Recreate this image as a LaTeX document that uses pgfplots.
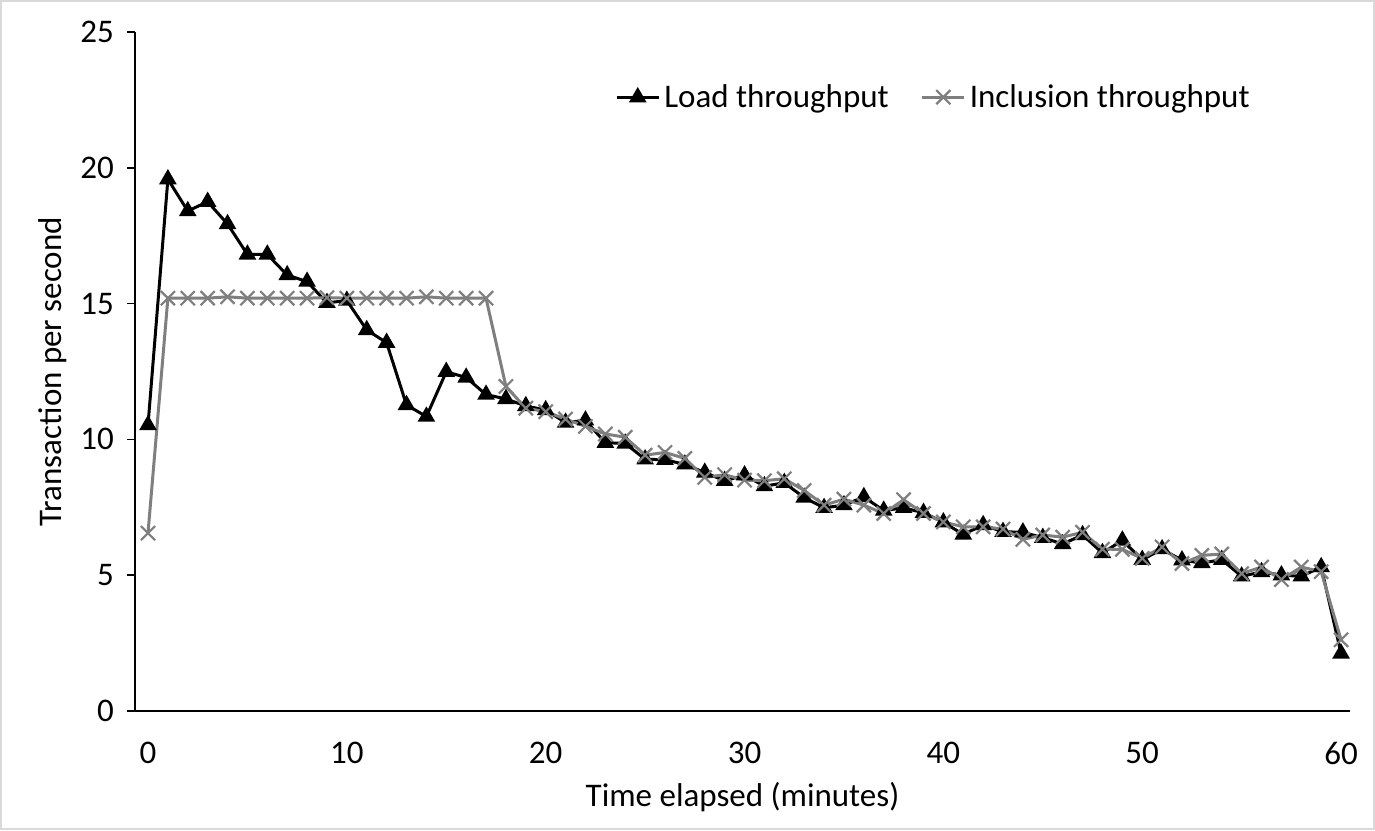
\documentclass[border=0pt]{standalone}
\usepackage{pgfplots}
\pgfplotsset{compat=1.18}
\usepackage{pgfplotstable}
\usepackage{fontspec}
\setmainfont{Carlito}

\definecolor{incl}{HTML}{7F7F7F}
\definecolor{frame}{HTML}{D9D9D9}

\pgfplotstableread{
t load
0 10.53
1 19.58
2 18.41
3 18.75
4 17.93
5 16.81
6 16.81
7 16.05
8 15.81
9 15.03
10 15.11
11 14.03
12 13.56
13 11.27
14 10.84
15 12.49
16 12.28
17 11.65
18 11.49
19 11.23
20 11.08
21 10.62
22 10.70
23 9.88
24 9.85
25 9.27
26 9.25
27 9.08
28 8.78
29 8.48
30 8.68
31 8.28
32 8.40
33 7.86
34 7.48
35 7.58
36 7.88
37 7.38
38 7.48
39 7.30
40 6.95
41 6.50
42 6.85
43 6.60
44 6.58
45 6.38
46 6.15
47 6.48
48 5.82
49 6.28
50 5.57
51 5.96
52 5.55
53 5.45
54 5.57
55 4.96
56 5.12
57 5.00
58 4.96
59 5.30
60 2.12
}\loadtable

\pgfplotstableread{
t incl
0 6.55
1 15.20
2 15.20
3 15.20
4 15.25
5 15.20
6 15.20
7 15.20
8 15.20
9 15.22
10 15.20
11 15.20
12 15.20
13 15.20
14 15.25
15 15.20
16 15.20
17 15.20
18 11.95
19 11.15
20 11.02
21 10.75
22 10.48
23 10.20
24 10.08
25 9.42
26 9.52
27 9.30
28 8.60
29 8.70
30 8.50
31 8.48
32 8.55
33 8.12
34 7.58
35 7.80
36 7.58
37 7.27
38 7.78
39 7.27
40 6.96
41 6.78
42 6.78
43 6.70
44 6.32
45 6.48
46 6.40
47 6.58
48 5.96
49 5.95
50 5.62
51 6.04
52 5.43
53 5.73
54 5.78
55 5.06
56 5.30
57 4.84
58 5.30
59 5.13
60 2.62
}\incltable

\begin{document}
\begin{tikzpicture}
  % frame of the whole chart area: 1375 x 830 px at 0.5pt per px
  \useasboundingbox (0,0) rectangle (687.5pt,415pt);
  \draw[frame, line width=1.2pt] (0.6pt,0.6pt) rectangle (686.9pt,414.4pt);
  \begin{axis}[
    at={(67.5pt,59.5pt)}, anchor=south west,
    scale only axis,
    width=607.5pt, height=339.5pt,
    xmin=-0.654, xmax=60.45,
    ymin=0, ymax=25,
    axis x line*=bottom, axis y line*=left,
    axis line style={black, line width=0.9pt, -},
    xtick={0,10,...,60},
    ytick={0,5,...,25},
    x tick style={draw=none},
    y tick style={black, line width=0.9pt},
    tick align=outside,
    major tick length=4pt,
    /pgf/number format/assume math mode=true,
    tick label style={font=\fontsize{16.5}{19}\selectfont},
    label style={font=\fontsize{16.5}{19}\selectfont},
    xlabel={Time elapsed (minutes)},
    ylabel={Transaction per second},
    xticklabel style={yshift=-8pt},
    yticklabel style={xshift=-3pt},
    xlabel style={yshift=-2pt},
    legend style={
      draw=none, fill=none,
      at={(0.39,0.904)}, anchor=west,
      font=\fontsize{16.5}{19}\selectfont,
      legend cell align=left,
      /tikz/every even column/.append style={column sep=14pt},
    },
    legend columns=2,
    legend image code/.code={
      \draw[mark repeat=2, mark phase=2, #1]
        plot coordinates {(0pt,0pt) (10.5pt,0pt) (21pt,0pt)};
    },
  ]
    \addplot[black, line width=1.5pt, mark=triangle*, mark size=3.6pt,
             mark options={solid, fill=black}]
      table[x=t, y=load] {\loadtable};
    \addlegendentry{Load throughput}
    \addplot[incl, line width=1.5pt, mark=x, mark size=5pt,
             mark options={solid, line width=1.1pt}]
      table[x=t, y=incl] {\incltable};
    \addlegendentry{Inclusion throughput}
  \end{axis}
\end{tikzpicture}
\end{document}
